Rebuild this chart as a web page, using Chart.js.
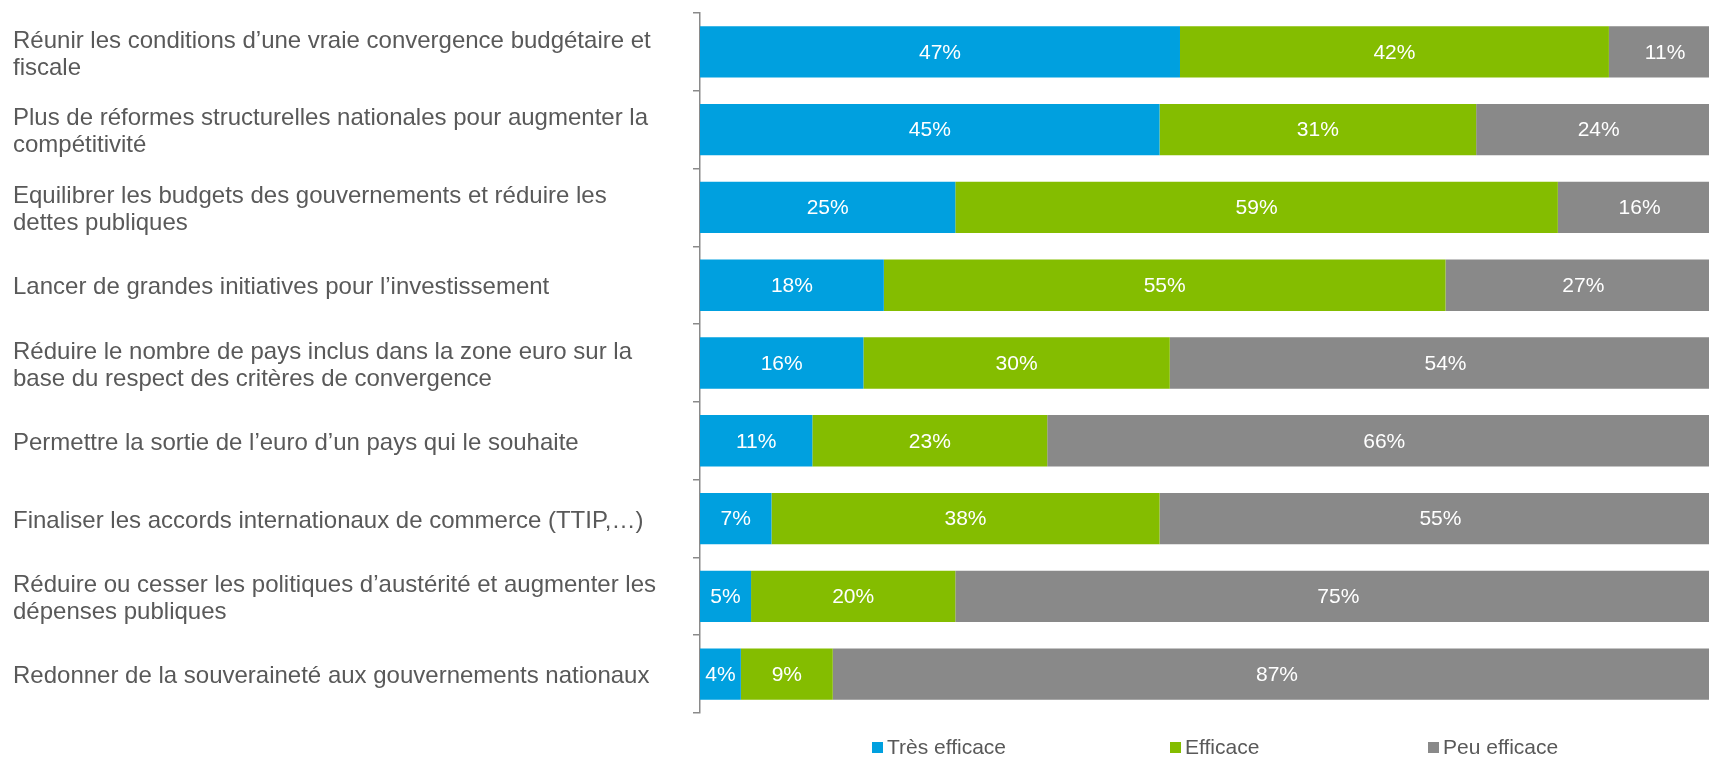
<!DOCTYPE html>
<html lang="fr">
<head>
<meta charset="utf-8">
<title>Efficacité des mesures</title>
<script src="https://cdn.jsdelivr.net/npm/chart.js@4/dist/chart.umd.min.js"></script>
<style>
  html, body { margin: 0; padding: 0; background: #ffffff; overflow: hidden; }
  #cadre { position: relative; width: 1709px; height: 757px; }
  #legende { position: absolute; left: 0; top: 0; width: 100%; height: 100%; pointer-events: none; }
  .item { position: absolute; top: 735px; display: flex; align-items: center;
          font: 21px "Liberation Sans", Arial, sans-serif; color: #595959; white-space: nowrap; }
  .carre { width: 11px; height: 11px; margin-right: 4px; }
</style>
</head>
<body>
<div id="cadre">
  <canvas id="graphique" width="1709" height="757"></canvas>
  <div id="legende"></div>
</div>
<script>
/* ---------- Données ---------- */
const mesures = [
    ["Réunir les conditions d’une vraie convergence budgétaire et", "fiscale"],
    ["Plus de réformes structurelles nationales pour augmenter la", "compétitivité"],
    ["Equilibrer les budgets des gouvernements et réduire les", "dettes publiques"],
    "Lancer de grandes initiatives pour l’investissement",
    ["Réduire le nombre de pays inclus dans la zone euro sur la", "base du respect des critères de convergence"],
    "Permettre la sortie de l’euro d’un pays qui le souhaite",
    "Finaliser les accords internationaux de commerce (TTIP,…)",
    ["Réduire ou cesser les politiques d’austérité et augmenter les", "dépenses publiques"],
    "Redonner de la souveraineté aux gouvernements nationaux"
];

const tresEfficace = [47, 45, 25, 18, 16, 11, 7, 5, 4];
const efficace     = [42, 31, 59, 55, 30, 23, 38, 20, 9];
const peuEfficace  = [11, 24, 16, 27, 54, 66, 55, 75, 87];

const series   = ["Très efficace", "Efficace", "Peu efficace"];
const couleurs = ["#00a0df", "#84bd00", "#898989"];

/* ---------- Mise en page ---------- */
const legendeX = [872, 1170, 1428];
const police = '"Liberation Sans", Arial, sans-serif';

/* ---------- Étiquettes dans les barres ---------- */
const etiquettesBarres = {
    id: "etiquettesBarres",
    afterDatasetsDraw(chart) {
        const ctx = chart.ctx;
        ctx.save();
        ctx.font = "21px " + police;
        ctx.fillStyle = "#ffffff";
        ctx.textAlign = "center";
        ctx.textBaseline = "middle";
        chart.data.datasets.forEach((ds, i) => {
            chart.getDatasetMeta(i).data.forEach((bar, j) => {
                ctx.fillText(ds.data[j] + "%", (bar.x + bar.base) / 2, bar.y + 1);
            });
        });
        ctx.restore();
    }
};

new Chart(document.getElementById("graphique"), {
    type: "bar",
    data: {
        labels: mesures,
        datasets: [tresEfficace, efficace, peuEfficace].map((d, i) => ({
            label: series[i],
            data: d,
            backgroundColor: couleurs[i],
            borderWidth: 0,
            categoryPercentage: 1,
            barPercentage: 0.66
        }))
    },
    options: {
        indexAxis: "y",
        responsive: false,
        animation: false,
        devicePixelRatio: 1,
        layout: { padding: { left: 13, top: 13, right: 0, bottom: 44 } },
        plugins: {
            legend: { display: false },
            tooltip: { enabled: false }
        },
        scales: {
            x: {
                stacked: true,
                display: false,
                min: 0,
                max: 98.8
            },
            y: {
                stacked: true,
                afterFit(scale) {
                    scale.width = 687;
                    scale.paddingTop = 0;
                    scale.paddingBottom = 0;
                },
                border: { display: true, color: "#8a8a8a", width: 1.5 },
                grid: {
                    offset: true,
                    drawOnChartArea: false,
                    drawTicks: true,
                    tickLength: 7,
                    color: "#8a8a8a",
                    lineWidth: 1.5
                },
                ticks: {
                    crossAlign: "far",
                    labelOffset: 2.5,
                    color: "#595959",
                    font: { family: police, size: 24, lineHeight: 1.125 }
                }
            }
        }
    },
    plugins: [etiquettesBarres]
});

/* ---------- Légende ---------- */
const legende = document.getElementById("legende");
series.forEach((nom, i) => {
    const item = document.createElement("div");
    item.className = "item";
    item.style.left = legendeX[i] + "px";
    const carre = document.createElement("span");
    carre.className = "carre";
    carre.style.background = couleurs[i];
    item.appendChild(carre);
    item.appendChild(document.createTextNode(nom));
    legende.appendChild(item);
});
</script>
</body>
</html>
